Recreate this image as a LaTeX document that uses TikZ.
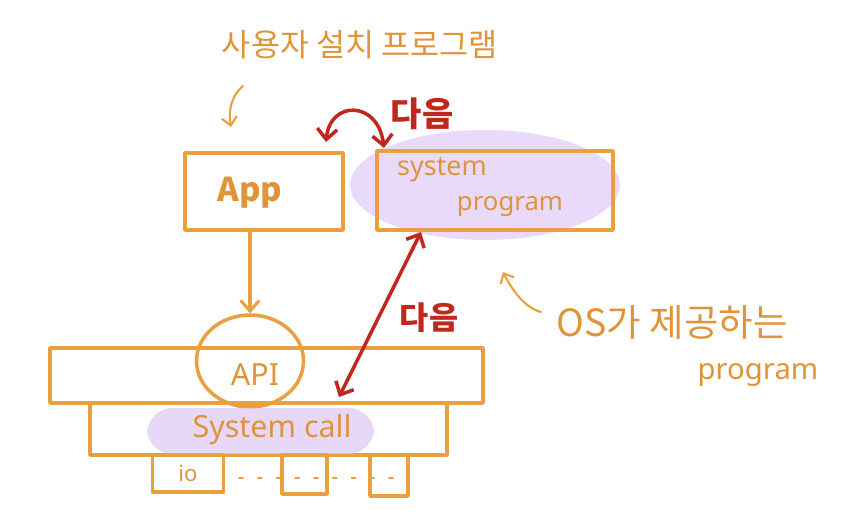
\documentclass[tikz,border=0pt]{standalone}
\usepackage{fontspec}
\setmainfont{Noto Sans}
\newfontfamily\kr{Noto Sans CJK KR}
\usetikzlibrary{arrows.meta,shapes.geometric}
\definecolor{org}{HTML}{E8A040}
\definecolor{otext}{HTML}{E0943A}
\definecolor{rd}{HTML}{C0281E}
\definecolor{lav}{HTML}{E6D6F7}
\tikzset{
  box/.style={draw=org, line width=3pt, line join=round},
  oarrow/.style={draw=org, line width=2.6pt, line cap=round, -{Straight Barb[length=9pt,width=16pt,line width=2.6pt]}},
  thinarrow/.style={draw=org, line width=1.8pt, line cap=round, -{Straight Barb[length=7pt,width=13pt,line width=1.8pt]}},
  rarrow/.style={draw=rd, line width=3pt, line cap=round, {Straight Barb[length=9pt,width=17pt,line width=3pt]}-{Straight Barb[length=9pt,width=17pt,line width=3pt]}},
  otxt/.style={text=otext, inner sep=0pt},
  rtxt/.style={text=rd, inner sep=0pt, font=\kr\bfseries\fontsize{29}{31}\selectfont},
}
\begin{document}
\begin{tikzpicture}[x=0.03cm, y=-0.03cm]
\useasboundingbox (0,0) rectangle (847,518);
% purple highlights
\fill[lav, opacity=0.9] (485,185) ellipse [x radius=135, y radius=55];
\fill[lav, opacity=0.9, rounded corners=22pt] (147,408) rectangle (374,454);
% title
\node[otxt, font=\kr\fontsize{27}{30}\selectfont] (title) at (360,45) {사용자 설치 프로그램};
\coordinate (t1) at (243,86);
\coordinate (t2) at (231,127);
\draw[thinarrow] (t1) .. controls (232,95) and (228,110) .. (t2);
% boxes
\node[box, minimum width=158*0.03cm, minimum height=77*0.03cm, inner sep=0pt] (app) at (264,191.5) {};
\node[otxt, font=\kr\bfseries\fontsize{28}{30}\selectfont] (apptext) at (250,193) {App};
\node[box, minimum width=236*0.03cm, minimum height=79*0.03cm, inner sep=0pt] (sys) at (495,190.5) {};
\node[otxt, font=\fontsize{23}{25}\selectfont] (sys1) at (442,170) {system};
\node[otxt, font=\fontsize{22}{24}\selectfont] (sys2) at (510,207) {program};
% top red arrow
\coordinate (r1) at (326,142);
\coordinate (r2) at (384,148);
\draw[rarrow] (r1) .. controls (330,100) and (378,100) .. (r2);
\node[rtxt] (next1) at (422,114) {다음};
% API layer
\node[box, minimum width=433*0.03cm, minimum height=55*0.03cm, inner sep=0pt] (apibar) at (266.5,375.5) {};
\node[box, minimum width=357*0.03cm, minimum height=52*0.03cm, inner sep=0pt] (sysbar) at (268.5,429) {};
\node[draw=org, line width=3pt, ellipse, minimum width=107*0.03cm, minimum height=92*0.03cm, inner sep=0pt] (apic) at (250,361) {};
\fill[lav, opacity=0.6, rounded corners=22pt] (147,408) rectangle (374,454);
\node[otxt, font=\fontsize{26}{28}\selectfont] (apitext) at (255,375) {API};
\node[otxt, font=\fontsize{26}{28}\selectfont] (sctext) at (272,430) {System call};
\draw[oarrow] (app.south -| apptext) -- (apic.north);
% small boxes
\node[box, minimum width=71*0.03cm, minimum height=37*0.03cm, inner sep=0pt] (io) at (188,473.5) {};
\node[otxt, font=\fontsize{19}{22}\selectfont] (iotext) at (188,473) {io};
\node[box, minimum width=45*0.03cm, minimum height=39*0.03cm, inner sep=0pt] (b2) at (304.5,474.5) {};
\node[box, minimum width=38*0.03cm, minimum height=41*0.03cm, inner sep=0pt] (b3) at (389,475.5) {};
\draw[org, line width=2.2pt, line cap=round, dash pattern=on 3pt off 13pt] (io.east |- 0,478) ++(14,0) -- (405,478);
% middle red arrow
\coordinate (r3) at (421,232);
\coordinate (r4) at (339,397);
\draw[rarrow] (r3) -- (r4);
\node[rtxt, font=\kr\bfseries\fontsize{27}{29}\selectfont] (next2) at (429,318) {다음};
% OS annotation
\coordinate (o1) at (541,312);
\coordinate (o2) at (503,272);
\draw[thinarrow] (o1) .. controls (525,308) and (512,290) .. (o2);
\node[otxt, font=\kr\fontsize{32}{34}\selectfont] (os1) at (672,322) {OS가 제공하는};
\node[otxt, font=\fontsize{25}{27}\selectfont] (os2) at (758,375) {program};
\end{tikzpicture}
\end{document}
